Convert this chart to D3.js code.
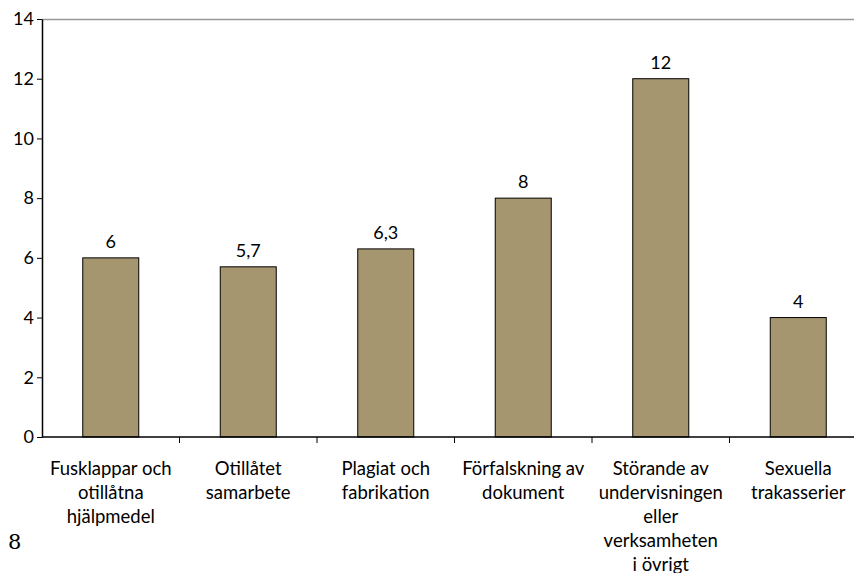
<!DOCTYPE html>
<html>
<head>
<meta charset="utf-8">
<script src="https://cdn.jsdelivr.net/npm/d3@7"></script>
<style>
  body { margin: 0; background: #fff; }
  text { fill: #000; }
</style>
</head>
<body>
<script>
// chart data
const categories = [
  ["Fusklappar och", "otillåtna", "hjälpmedel"],
  ["Otillåtet", "samarbete"],
  ["Plagiat och", "fabrikation"],
  ["Förfalskning av", "dokument"],
  ["Störande av", "undervisningen", "eller", "verksamheten", "i övrigt"],
  ["Sexuella", "trakasserier"]
];
const values = [6, 5.7, 6.3, 8, 12, 4];
const valueLabels = ["6", "5,7", "6,3", "8", "12", "4"];
const yTicks = [0, 2, 4, 6, 8, 10, 12, 14];

const width = 854, height = 573;
const margin = { top: 19, left: 42, bottom: 136 };
const plotRight = 42 + 6 * 137.5; // plot runs past the right edge
const sans = "Lato, 'DejaVu Sans', sans-serif";

const svg = d3.select("body").append("svg")
  .attr("width", width)
  .attr("height", height);

const x = d3.scaleBand()
  .domain(d3.range(categories.length))
  .range([margin.left, plotRight]);

const y = d3.scaleLinear()
  .domain([0, 14])
  .range([height - margin.bottom, margin.top]);

const barW = 56;

// top border of plot area
svg.append("line")
  .attr("x1", margin.left).attr("x2", plotRight)
  .attr("y1", y(14) + 0.5).attr("y2", y(14) + 0.5)
  .attr("stroke", "#999").attr("stroke-width", 1.5);

// bars
svg.append("g").selectAll("rect")
  .data(values)
  .join("rect")
  .attr("x", (d, i) => x(i) + x.bandwidth() / 2 - barW / 2)
  .attr("y", d => y(d))
  .attr("width", barW)
  .attr("height", d => y(0) - y(d))
  .attr("fill", "#a69670")
  .attr("stroke", "#000")
  .attr("stroke-width", 1);

// value labels
svg.append("g").selectAll("text")
  .data(values)
  .join("text")
  .attr("x", (d, i) => x(i) + x.bandwidth() / 2)
  .attr("y", d => y(d) - 10)
  .attr("text-anchor", "middle")
  .style("font-family", sans)
  .style("font-size", "18px")
  .text((d, i) => valueLabels[i]);

// y axis
const yAxis = svg.append("g")
  .attr("transform", `translate(${margin.left},0)`)
  .call(d3.axisLeft(y).tickValues(yTicks).tickSize(5).tickSizeOuter(0).tickFormat(d3.format("d")));
yAxis.select(".domain").attr("stroke", "#000").attr("stroke-width", 1.5);
yAxis.selectAll(".tick line").attr("stroke", "#000");
yAxis.selectAll(".tick text")
  .attr("x", -8)
  .style("font-family", sans)
  .style("font-size", "18px");

// x axis line and ticks at category boundaries
const xAxis = svg.append("g");
xAxis.append("line")
  .attr("x1", margin.left).attr("x2", plotRight)
  .attr("y1", y(0)).attr("y2", y(0))
  .attr("stroke", "#000").attr("stroke-width", 1.5);
xAxis.selectAll("line.tick")
  .data(d3.range(1, categories.length + 1))
  .join("line")
  .attr("class", "tick")
  .attr("x1", i => x.step() * i + margin.left)
  .attr("x2", i => x.step() * i + margin.left)
  .attr("y1", y(0)).attr("y2", y(0) + 6)
  .attr("stroke", "#000");

// category labels
const catG = svg.append("g").selectAll("text")
  .data(categories)
  .join("text")
  .attr("text-anchor", "middle")
  .style("font-family", sans)
  .style("font-size", "18.5px")
  .attr("transform", (d, i) => `translate(${x(i) + x.bandwidth() / 2},${y(0) + 38})`);
catG.selectAll("tspan")
  .data(d => d)
  .join("tspan")
  .attr("x", 0)
  .attr("y", (d, j) => j * 24)
  .text(d => d);

// page number
svg.append("text")
  .attr("x", 8).attr("y", 549)
  .style("font-family", "'DejaVu Serif', 'Liberation Serif', serif")
  .style("font-size", "21px")
  .text("8");
</script>
</body>
</html>
